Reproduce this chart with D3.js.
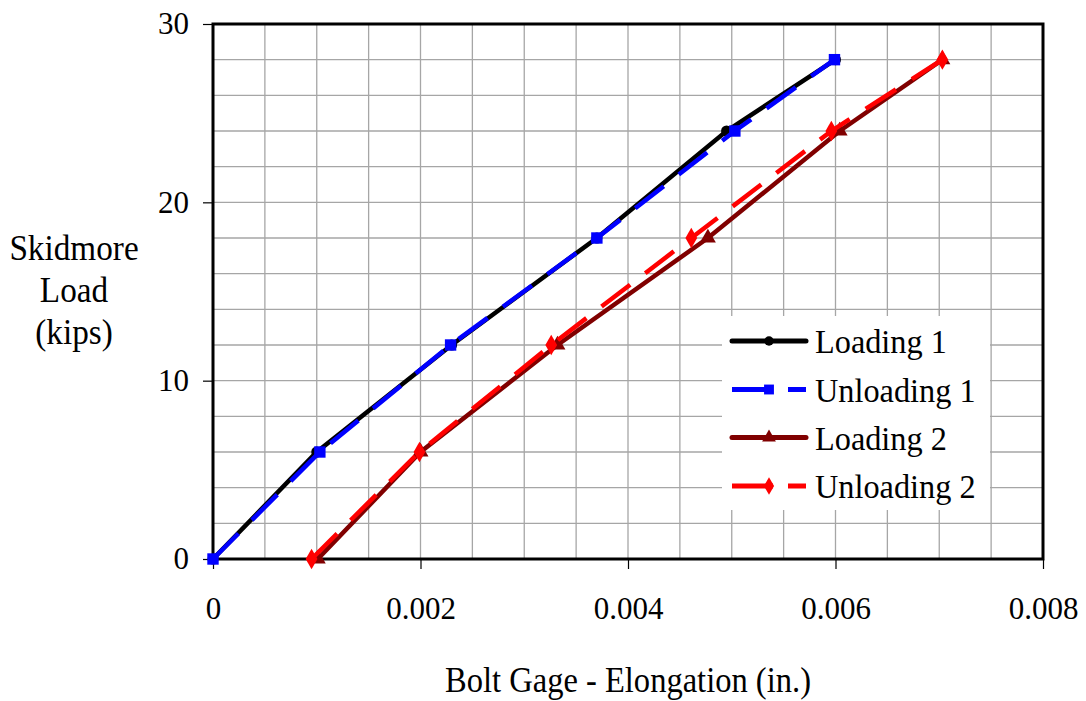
<!DOCTYPE html>
<html>
<head>
<meta charset="utf-8">
<script src="https://cdn.jsdelivr.net/npm/d3@7/dist/d3.min.js"></script>
<style>
html,body{margin:0;padding:0;background:#fff;}
svg{display:block;}
text{font-family:"Liberation Serif","Times New Roman",serif;fill:#000;}
</style>
</head>
<body>
<svg id="chart" width="1086" height="701"></svg>
<script>
// ---- data ----
const loadLevels   = [0, 6, 12, 18, 24, 28];
const loading1X    = [0, 0.00100, 0.00230, 0.00370, 0.00495, 0.00600];
const unloading1X  = [0, 0.00103, 0.00229, 0.00370, 0.00503, 0.00599];
const loading2X    = [0.00101, 0.00200, 0.00332, 0.00477, 0.00604, 0.00703];
const unloading2X  = [0.00095, 0.00199, 0.00326, 0.00461, 0.00596, 0.00703];
const seriesNames  = ["Loading 1", "Unloading 1", "Loading 2", "Unloading 2"];
const xTickValues  = [0, 0.002, 0.004, 0.006, 0.008];
const xTickLabels  = ["0", "0.002", "0.004", "0.006", "0.008"];
const yTickValues  = [0, 10, 20, 30];
const yTickLabels  = ["0", "10", "20", "30"];
const xTitle = "Bolt Gage - Elongation (in.)";
const yTitleLines = ["Skidmore", "Load", "(kips)"];

// ---- layout ----
const svg = d3.select("#chart");
const L = 213, R = 1043, T = 24, B = 559;
const x = d3.scaleLinear().domain([0, 0.008]).range([L, R]);
const y = d3.scaleLinear().domain([0, 30]).range([B, T]);

// gridlines
const grid = svg.append("g");
grid.selectAll("line.v").data(d3.range(1, 16).map(i => i * 0.0005)).enter()
  .append("line").attr("x1", d => x(d)).attr("x2", d => x(d)).attr("y1", T).attr("y2", B)
  .attr("stroke", "#a6a6a6").attr("stroke-width", 1.3);
grid.selectAll("line.h").data(d3.range(1, 15).map(i => i * 2)).enter()
  .append("line").attr("y1", d => y(d)).attr("y2", d => y(d)).attr("x1", L).attr("x2", R)
  .attr("stroke", "#a6a6a6").attr("stroke-width", 1.3);

// axes
const xAxis = d3.axisBottom(x).tickValues(xTickValues).tickFormat((d, i) => xTickLabels[i]).tickSize(10).tickPadding(28);
const yAxis = d3.axisLeft(y).tickValues(yTickValues).tickFormat((d, i) => yTickLabels[i]).tickSize(10).tickPadding(14);
const gx = svg.append("g").attr("transform", `translate(0,${B})`).call(xAxis);
const gy = svg.append("g").attr("transform", `translate(${L},0)`).call(yAxis);
[gx, gy].forEach(g => {
  g.select(".domain").remove();
  g.selectAll(".tick line").attr("stroke", "#000").attr("stroke-width", 1.2);
  g.selectAll(".tick text").attr("font-family", "Liberation Serif").attr("font-size", 31).attr("fill", "#000");
});
gx.selectAll(".tick text").attr("dy", "0.71em");

// plot border
svg.append("rect").attr("x", L).attr("y", T).attr("width", R - L).attr("height", B - T)
  .attr("fill", "none").attr("stroke", "#000").attr("stroke-width", 3);

// series
const series = [
  {name: seriesNames[0], xs: loading1X,   color: "#000000", dash: null,    sym: d3.symbolCircle,   size: 95},
  {name: seriesNames[1], xs: unloading1X, color: "#0000ff", dash: "36,19", sym: d3.symbolSquare,   size: 130},
  {name: seriesNames[2], xs: loading2X,   color: "#800000", dash: null,    sym: d3.symbolTriangle, size: 110},
  {name: seriesNames[3], xs: unloading2X, color: "#ff0000", dash: "36,19", sym: d3.symbolDiamond,  size: 120}
];
const line = d3.line().x(d => x(d[0])).y(d => y(d[1]));
series.forEach(s => {
  const pts = s.xs.map((v, i) => [v, loadLevels[i]]);
  svg.append("path").datum(pts).attr("d", line).attr("fill", "none")
    .attr("stroke", s.color).attr("stroke-width", 4.5)
    .attr("stroke-dasharray", s.dash);
  svg.append("g").selectAll("path").data(pts).enter().append("path")
    .attr("transform", d => `translate(${x(d[0])},${y(d[1])})`)
    .attr("d", d3.symbol().type(s.sym).size(s.size)).attr("fill", s.color);
});

// legend
const lg = svg.append("g");
lg.append("rect").attr("x", 722).attr("y", 316).attr("width", 268).attr("height", 194).attr("fill", "#fff");
const rowY = [341, 389.5, 437.5, 486];
series.forEach((s, i) => {
  const yy = rowY[i];
  lg.append("line").attr("x1", 732).attr("x2", 806).attr("y1", yy).attr("y2", yy)
    .attr("stroke", s.color).attr("stroke-width", 5)
    .attr("stroke-linecap", s.dash ? "butt" : "round")
    .attr("stroke-dasharray", s.dash ? "41,15" : null);
  lg.append("path").attr("transform", `translate(769,${yy})`)
    .attr("d", d3.symbol().type(s.sym).size(s.size * 0.75)).attr("fill", s.color);
  lg.append("text").attr("transform", `translate(815,${yy + 12}) scale(0.95,1)`)
    .attr("font-size", 34).text(s.name);
});

// axis titles
svg.append("text").attr("transform", `translate(628,692) scale(0.93,1)`)
  .attr("text-anchor", "middle").attr("font-size", 35).text(xTitle);
yTitleLines.forEach((t, i) => {
  svg.append("text").attr("transform", `translate(74,${260 + i * 42}) scale(0.95,1)`)
    .attr("text-anchor", "middle").attr("font-size", 35).text(t);
});
</script>
</body>
</html>
